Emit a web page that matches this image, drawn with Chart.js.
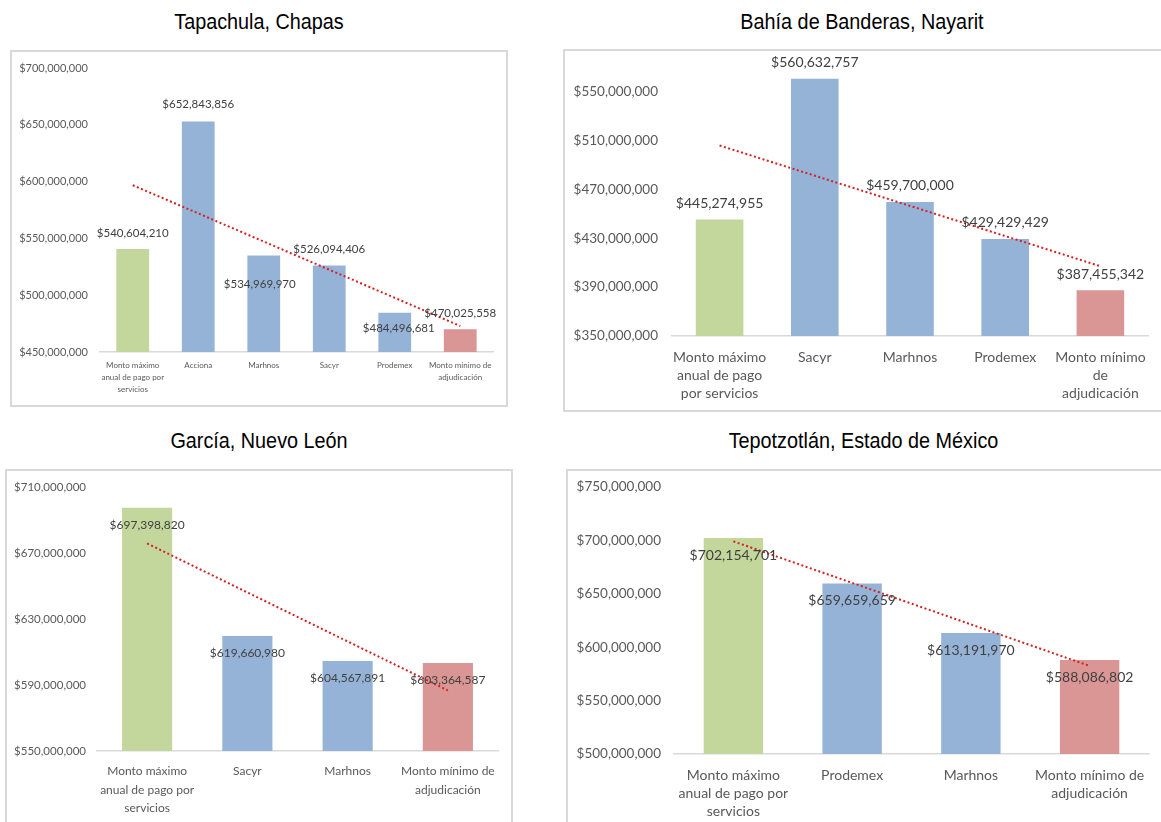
<!DOCTYPE html>
<html>
<head>
<meta charset="utf-8">
<script src="https://cdn.jsdelivr.net/npm/chart.js@4.4.1/dist/chart.umd.min.js"></script>
<style>
body{margin:0;background:#fff;width:1161px;height:822px;overflow:hidden;position:relative;font-family:Lato,sans-serif}
.titulo{position:absolute;text-align:center;font-family:"Liberation Sans",Arial,sans-serif;font-size:22px;line-height:24px;color:#000;transform:scaleX(0.9)}
.caja{position:absolute;border:2px solid #d9d9d9;box-sizing:border-box}
canvas{position:absolute}
</style>
</head>
<body>
<div class="titulo" style="left:10px;top:10px;width:498px">Tapachula, Chapas</div>
<div class="titulo" style="left:563px;top:10px;width:598px">Bahía de Banderas, Nayarit</div>
<div class="titulo" style="left:5px;top:429px;width:508px">García, Nuevo León</div>
<div class="titulo" style="left:566px;top:429px;width:595px">Tepotzotlán, Estado de México</div>

<div class="caja" style="left:10px;top:50px;width:498px;height:357px"></div>
<div class="caja" style="left:563px;top:49px;width:620px;height:363px"></div>
<div class="caja" style="left:5px;top:469px;width:508px;height:400px"></div>
<div class="caja" style="left:566px;top:469px;width:620px;height:400px"></div>

<canvas id="tapachula" width="498" height="357" style="left:10px;top:50px"></canvas>
<canvas id="bahia" width="598" height="363" style="left:563px;top:49px"></canvas>
<canvas id="garcia" width="508" height="353" style="left:5px;top:469px"></canvas>
<canvas id="tepotzotlan" width="595" height="353" style="left:566px;top:469px"></canvas>

<script>
// Tapachula, Chapas
var tapachulaCats = [['Monto máximo','anual de pago por','servicios'], 'Acciona', 'Marhnos', 'Sacyr', 'Prodemex', ['Monto mínimo de','adjudicación']]
var tapachulaValores = [540604210, 652843856, 534969970, 526094406, 484496681, 470025558]
var tapachulaTendencia = [596800000, 472900000]   // extremos de la linea de tendencia
var tapachulaTicks = [450000000, 500000000, 550000000, 600000000, 650000000, 700000000]

// Bahía de Banderas, Nayarit
var bahiaCats = [['Monto máximo','anual de pago','por servicios'], 'Sacyr', 'Marhnos', 'Prodemex', ['Monto mínimo','de','adjudicación']]
var bahiaValores = [445274955, 560632757, 459700000, 429429429, 387455342]
var bahiaTendencia = [505900000, 407100000]
var bahiaTicks = [350000000, 390000000, 430000000, 470000000, 510000000, 550000000]

// García, Nuevo León
var garciaCats = [['Monto máximo','anual de pago por','servicios'], 'Sacyr', 'Marhnos', ['Monto mínimo de','adjudicación']]
var garciaValores = [697398820, 619660980, 604567891, 603364587]
var garciaTendencia = [675800000, 586700000]
var garciaTicks = [550000000, 590000000, 630000000, 670000000, 710000000]

// Tepotzotlán, Estado de México
var tepoCats = [['Monto máximo','anual de pago por','servicios'], 'Prodemex', 'Marhnos', ['Monto mínimo de','adjudicación']]
var tepoValores = [702154701, 659659659, 613191970, 588086802]
var tepoTendencia = [699100000, 582500000]
var tepoTicks = [500000000, 550000000, 600000000, 650000000, 700000000, 750000000]

var verde = '#C3D69B', azul = '#95B3D7', rojo = '#D99694'

function pesos(v) {
  return '$' + String(Math.round(v)).replace(/\B(?=(\d{3})+(?!\d))/g, ',')
}

// etiquetas de valor sobre / dentro de cada barra
var etiquetas = {
  id: 'etiquetas',
  afterDatasetsDraw(chart, args, opts) {
    var ctx = chart.ctx
    var meta = chart.getDatasetMeta(0)
    var valores = chart.data.datasets[0].data
    ctx.save()
    ctx.font = opts.size + 'px Lato'
    ctx.fillStyle = '#404040'
    ctx.textAlign = 'center'
    ctx.textBaseline = 'middle'
    meta.data.forEach(function (bar, i) {
      var dy = Array.isArray(opts.dy) ? opts.dy[i] : opts.dy
      var dx = opts.dx ? opts.dx[i] : 0
      ctx.fillText(pesos(valores[i]), bar.x + dx, bar.y + dy)
    })
    ctx.restore()
  }
}

function crear(id, cats, valores, tendencia, ticks, op) {
  var n = valores.length
  var colores = valores.map(function (v, i) {
    return i === 0 ? verde : (i === n - 1 ? rojo : azul)
  })
  var linea = valores.map(function (v, i) {
    return i === 0 ? tendencia[0] : (i === n - 1 ? tendencia[1] : null)
  })
  var paso = ticks[1] - ticks[0]

  new Chart(document.getElementById(id), {
    data: {
      labels: cats,
      datasets: [{
        type: 'bar',
        data: valores,
        backgroundColor: colores,
        borderWidth: 0,
        barPercentage: 0.5,
        categoryPercentage: 1,
        order: 1
      }, {
        type: 'line',
        data: linea,
        borderColor: '#D42020',
        borderWidth: 2,
        borderDash: [2, 2.5],
        pointRadius: 0,
        spanGaps: true,
        fill: false,
        order: 0
      }]
    },
    options: {
      responsive: false,
      animation: false,
      layout: { padding: { top: op.top, right: op.right, left: 0, bottom: 0 } },
      plugins: {
        legend: { display: false },
        tooltip: { enabled: false },
        etiquetas: { size: op.dFont, dy: op.dy, dx: op.dx }
      },
      scales: {
        x: {
          grid: { display: false, drawTicks: false, tickLength: 0 },
          border: { color: '#D9D9D9', width: 1.5 },
          ticks: {
            color: '#595959',
            font: { family: 'Lato', size: op.xFont, lineHeight: op.xLh },
            padding: op.xPad,
            maxRotation: 0,
            autoSkip: false
          },
          afterFit: function (s) {
            s.height = op.xHeight
            s.paddingLeft = 0; s.paddingRight = 0
          }
        },
        y: {
          min: ticks[0],
          max: op.max || ticks[ticks.length - 1],
          grid: { display: false, drawTicks: false, tickLength: 0 },
          border: { display: false },
          ticks: {
            stepSize: paso,
            color: '#595959',
            font: { family: 'Lato', size: op.yFont },
            padding: op.yPad,
            callback: function (v) { return pesos(v) }
          },
          afterBuildTicks: function (s) {
            s.ticks = ticks.map(function (v) { return { value: v } })
          },
          afterFit: function (s) {
            s.width = op.yWidth
            s.paddingTop = 0; s.paddingBottom = 0
          }
        }
      }
    },
    plugins: [etiquetas]
  })
}

crear('tapachula', tapachulaCats, tapachulaValores, tapachulaTendencia, tapachulaTicks, {
  yWidth: 90, xHeight: 55, top: 18, right: 15,
  yFont: 11, yPad: 12, xFont: 8, xLh: 1.45, xPad: 8,
  dFont: 11.5, dy: [-16, -17, 29, -16, 15, -16], dx: [0, 0, -4, 0, 4, 0]
})

crear('bahia', bahiaCats, bahiaValores, bahiaTendencia, bahiaTicks, {
  yWidth: 109, xHeight: 76, top: 10, right: 13, max: 576700000,
  yFont: 13.5, yPad: 14, xFont: 14, xLh: 1.3, xPad: 12,
  dFont: 14, dy: -16
})

crear('garcia', garciaCats, garciaValores, garciaTendencia, garciaTicks, {
  yWidth: 92, xHeight: 71, top: 18, right: 15,
  yFont: 11.5, yPad: 11, xFont: 12, xLh: 1.54, xPad: 11,
  dFont: 12, dy: 17.5
})

crear('tepotzotlan', tepoCats, tepoValores, tepoTendencia, tepoTicks, {
  yWidth: 108, xHeight: 68, top: 18, right: 12,
  yFont: 13.5, yPad: 13, xFont: 14, xLh: 1.3, xPad: 12,
  dFont: 14, dy: 17.5
})
</script>
</body>
</html>
